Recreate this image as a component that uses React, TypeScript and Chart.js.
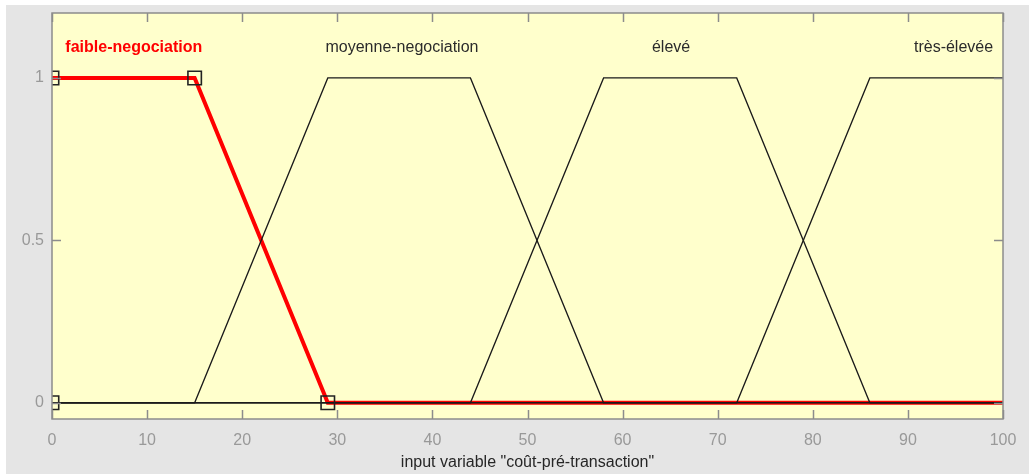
import React, { useEffect, useRef } from "react";
import { Chart, registerables } from "chart.js";

Chart.register(...registerables);

// membership functions of input variable "coût-pré-transaction"
const faibleX = [0, 15, 29, 100];
const faibleY = [1, 1, 0, 0];
const moyenneX = [0, 15, 29, 44, 58, 100];
const moyenneY = [0, 0, 1, 1, 0, 0];
const eleveX = [0, 44, 58, 72, 86, 100];
const eleveY = [0, 0, 1, 1, 0, 0];
const tresX = [0, 72, 86, 100];
const tresY = [0, 0, 1, 1];
// parameter markers of selected mf (faible-negociation)
const markerX = [0, 0, 15, 29];
const markerY = [0, 1, 1, 0];

const mfLabels = ["faible-negociation", "moyenne-negociation", "élevé", "très-élevée"];
const mfLabelX = [8.6, 36.8, 65.1, 94.8];
const mfLabelY = [1.094, 1.094, 1.094, 1.094];

const xTicks = [0, 10, 20, 30, 40, 50, 60, 70, 80, 90, 100];
const yTicks = [0, 0.5, 1];
const xTitle = 'input variable "coût-pré-transaction"';

const pts = (xs: number[], ys: number[]) => xs.map((x, i) => ({ x, y: ys[i] }));

const FONT = "'Liberation Sans', Arial, sans-serif";

const decorPlugin = {
  id: "decor",
  beforeDraw(chart: any) {
    const { ctx, chartArea: a } = chart;
    ctx.save();
    ctx.fillStyle = "#ffffff";
    ctx.fillRect(0, 0, chart.width, chart.height);
    ctx.fillStyle = "#e5e5e5";
    ctx.fillRect(6, 5, chart.width - 6, chart.height - 5);
    ctx.fillStyle = "#ffffcc";
    ctx.fillRect(a.left, a.top, a.right - a.left, a.bottom - a.top);
    ctx.restore();
  },
  afterDatasetsDraw(chart: any) {
    const { ctx, chartArea: a, scales } = chart;
    const xs = scales.x;
    const ys = scales.y;
    ctx.save();
    // labels
    ctx.textAlign = "center";
    ctx.textBaseline = "middle";
    mfLabels.forEach((t, i) => {
      ctx.font = (i === 0 ? "bold " : "") + "16px " + FONT;
      ctx.fillStyle = i === 0 ? "#ff0000" : "#2b2b2b";
      ctx.fillText(t, xs.getPixelForValue(mfLabelX[i]), ys.getPixelForValue(mfLabelY[i]));
    });
    // ticks (inward)
    ctx.strokeStyle = "#8c8c8c";
    ctx.lineWidth = 1.5;
    ctx.beginPath();
    const tl = 9;
    xTicks.forEach((v) => {
      const px = Math.round(xs.getPixelForValue(v)) + 0.5;
      ctx.moveTo(px, a.bottom);
      ctx.lineTo(px, a.bottom - tl);
      ctx.moveTo(px, a.top);
      ctx.lineTo(px, a.top + tl);
    });
    yTicks.forEach((v) => {
      const py = Math.round(ys.getPixelForValue(v)) + 0.5;
      ctx.moveTo(a.left, py);
      ctx.lineTo(a.left + tl, py);
      ctx.moveTo(a.right, py);
      ctx.lineTo(a.right - tl, py);
    });
    ctx.stroke();
    // border
    ctx.strokeRect(a.left, a.top, a.right - a.left, a.bottom - a.top);
    ctx.restore();
  },
};

export default function App() {
  const ref = useRef<HTMLCanvasElement>(null);
  useEffect(() => {
    if (!ref.current) return;
    const black = { borderColor: "#1a1a1a", borderWidth: 1.3, pointRadius: 0, fill: false, tension: 0, order: 1 };
    const chart = new Chart(ref.current, {
      type: "line",
      data: {
        datasets: [
          { label: mfLabels[0], data: pts(faibleX, faibleY), borderColor: "#ff0000", borderWidth: 4, pointRadius: 0, fill: false, order: 3 },
          { label: mfLabels[1], data: pts(moyenneX, moyenneY), ...black },
          { label: mfLabels[2], data: pts(eleveX, eleveY), ...black },
          { label: mfLabels[3], data: pts(tresX, tresY), ...black },
          {
            label: "params",
            data: pts(markerX, markerY),
            showLine: false,
            pointStyle: "rect",
            pointRadius: 9.5,
            pointBorderColor: "#222222",
            pointBackgroundColor: "rgba(0,0,0,0)",
            pointBorderWidth: 1.6,
            clip: 0,
            order: 0,
          } as any,
        ],
      },
      options: {
        animation: false,
        responsive: false,
        layout: { padding: { top: 13, right: 26, left: 0, bottom: 0 } },
        plugins: { legend: { display: false }, tooltip: { enabled: false } },
        scales: {
          x: {
            type: "linear",
            min: 0,
            max: 100,
            grid: { display: false, drawTicks: false },
            border: { display: false },
            afterBuildTicks: (s: any) => { s.ticks = xTicks.map((v) => ({ value: v })); },
            afterFit: (s: any) => { s.height = 55; s.paddingLeft = 0; s.paddingRight = 0; },
            ticks: { color: "#999999", font: { family: FONT, size: 16 }, padding: 12, maxRotation: 0, autoSkip: false },
            title: { display: true, text: xTitle, color: "#262626", font: { family: FONT, size: 16 }, padding: { top: 0, bottom: 2 } },
          },
          y: {
            type: "linear",
            min: -0.05,
            max: 1.2,
            grid: { display: false, drawTicks: false },
            border: { display: false },
            afterBuildTicks: (s: any) => { s.ticks = yTicks.map((v) => ({ value: v })); },
            afterFit: (s: any) => { s.width = 52; s.paddingTop = 0; s.paddingBottom = 0; },
            ticks: { color: "#999999", font: { family: FONT, size: 16 }, padding: 8, callback: (v: any) => String(v) },
          },
        },
      },
      plugins: [decorPlugin],
    });
    return () => chart.destroy();
  }, []);
  return (
    <canvas ref={ref} width={1029} height={474} style={{ position: "absolute", left: 0, top: 0, width: 1029, height: 474 }} />
  );
}
